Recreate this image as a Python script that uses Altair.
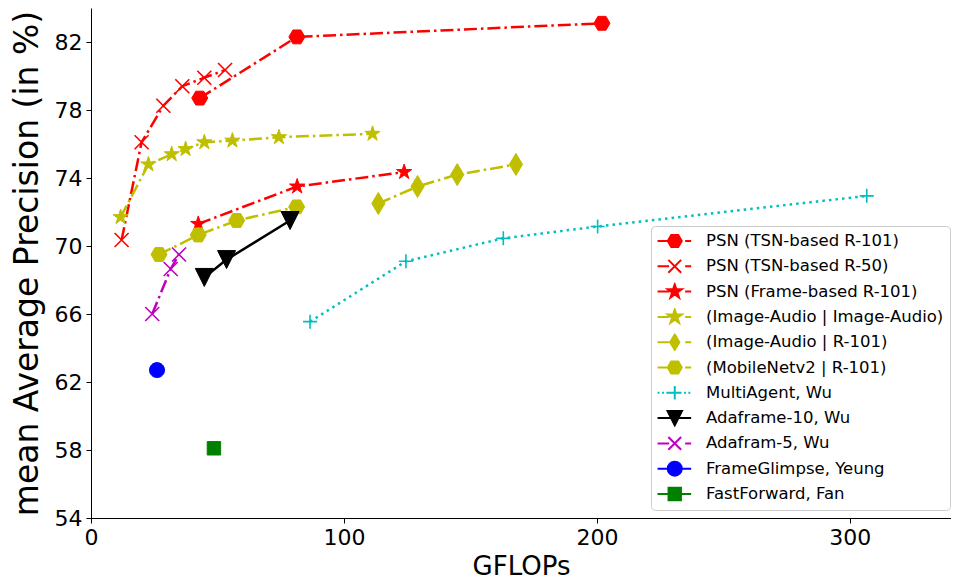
import math
import altair as alt
import pandas as pd

# ---------------- data ----------------
names = [
    "PSN (TSN-based R-101)",
    "PSN (TSN-based R-50)",
    "PSN (Frame-based R-101)",
    "(Image-Audio | Image-Audio)",
    "(Image-Audio | R-101)",
    "(MobileNetv2 | R-101)",
    "MultiAgent, Wu",
    "Adaframe-10, Wu",
    "Adafram-5, Wu",
    "FrameGlimpse, Yeung",
    "FastForward, Fan",
]

psn_tsn101_x = [43.0, 81.4, 202.0]
psn_tsn101_y = [78.7, 82.3, 83.1]
psn_tsn50_x = [12.1, 20.0, 28.6, 36.1, 44.8, 53.0]
psn_tsn50_y = [70.35, 76.1, 78.25, 79.4, 79.9, 80.35]
psn_frame101_x = [42.4, 81.5, 123.8]
psn_frame101_y = [71.3, 73.5, 74.35]
ia_ia_x = [11.7, 22.7, 31.9, 37.4, 44.8, 55.9, 74.3, 111.3]
ia_ia_y = [71.7, 74.8, 75.4, 75.7, 76.1, 76.2, 76.4, 76.6]
ia_r101_x = [113.6, 129.1, 144.8, 168.0]
ia_r101_y = [72.5, 73.5, 74.2, 74.8]
mob_r101_x = [26.9, 42.4, 57.6, 81.3]
mob_r101_y = [69.5, 70.65, 71.5, 72.3]
multiagent_x = [86.6, 124.5, 163.0, 200.3, 306.7]
multiagent_y = [65.55, 69.1, 70.45, 71.15, 72.95]
adaframe10_x = [44.8, 53.6, 78.7]
adaframe10_y = [68.15, 69.2, 71.5]
adafram5_x = [24.2, 31.5, 34.8]
adafram5_y = [66.0, 68.65, 69.5]
frameglimpse_x = [26.1]
frameglimpse_y = [62.7]
fastforward_x = [48.6]
fastforward_y = [58.1]

xs_all = [psn_tsn101_x, psn_tsn50_x, psn_frame101_x, ia_ia_x, ia_r101_x, mob_r101_x,
          multiagent_x, adaframe10_x, adafram5_x, frameglimpse_x, fastforward_x]
ys_all = [psn_tsn101_y, psn_tsn50_y, psn_frame101_y, ia_ia_y, ia_r101_y, mob_r101_y,
          multiagent_y, adaframe10_y, adafram5_y, frameglimpse_y, fastforward_y]

x_ticks = [0, 100, 200, 300]
y_ticks = [54, 58, 62, 66, 70, 74, 78, 82]

rows = []
for n, xs, ys in zip(names, xs_all, ys_all):
    for a, b in zip(xs, ys):
        rows.append({"series": n, "x": a, "y": b})
df = pd.DataFrame(rows)

# ---------------- marker shapes ----------------
def fmt(v):
    return f"{v:.3f}".rstrip("0").rstrip(".")

def star(r=1.0, ri=0.382):
    pts = []
    for i in range(10):
        ang = -math.pi / 2 + i * math.pi / 5
        rr = r if i % 2 == 0 else ri * r
        pts.append((rr * math.cos(ang), rr * math.sin(ang)))
    return "M" + "L".join(f"{fmt(a)},{fmt(b)}" for a, b in pts) + "Z"

def hexagon(r=1.0):
    h = r * 0.866
    return (f"M{fmt(-r)},0L{fmt(-r/2)},{fmt(-h)}L{fmt(r/2)},{fmt(-h)}L{fmt(r)},0"
            f"L{fmt(r/2)},{fmt(h)}L{fmt(-r/2)},{fmt(h)}Z")

def xmark(r=1.0):
    return f"M{fmt(-r)},{fmt(-r)}L{fmt(r)},{fmt(r)}M{fmt(-r)},{fmt(r)}L{fmt(r)},{fmt(-r)}"

def plus(r=1.0):
    return f"M{fmt(-r)},0L{fmt(r)},0M0,{fmt(-r)}L0,{fmt(r)}"

def diamond(w=0.6, h=1.0):
    return f"M0,{fmt(-h)}L{fmt(w)},0L0,{fmt(h)}L{fmt(-w)},0Z"

def tri_down(r=1.0):
    return f"M{fmt(-r)},{fmt(-r)}L{fmt(r)},{fmt(-r)}L0,{fmt(r)}Z"

def square(r=1.0):
    return f"M{fmt(-r)},{fmt(-r)}L{fmt(r)},{fmt(-r)}L{fmt(r)},{fmt(r)}L{fmt(-r)},{fmt(r)}Z"

def circle(r=1.0):
    return (f"M{fmt(r)},0A{fmt(r)},{fmt(r)} 0 1,1 {fmt(-r)},0"
            f"A{fmt(r)},{fmt(r)} 0 1,1 {fmt(r)},0Z")

RED, YEL, CYA, BLK, MAG, BLU, GRN = "#ff0000", "#bfbf00", "#00bfbf", "#000000", "#bf00bf", "#0000ff", "#008000"
DASHDOT = [13, 4, 2.5, 4]
DOT = [2.5, 4.1]

# style per series: color, marker path, size, filled, line dash (None = solid), legend line kind, legend marker
styles = [
    (RED, hexagon(), 256, True, DASHDOT, "dd", hexagon(1.75)),
    (RED, xmark(), 196, False, DASHDOT, "dd", xmark(1.6)),
    (RED, star(), 256, True, DASHDOT, "dd", star(1.85)),
    (YEL, star(), 256, True, DASHDOT, "dd", star(1.85)),
    (YEL, diamond(), 484, True, DASHDOT, "dd", diamond(1.15, 1.9)),
    (YEL, hexagon(), 256, True, DASHDOT, "dd", hexagon(1.75)),
    (CYA, plus(), 196, False, DOT, "dot", plus(1.7)),
    (BLK, tri_down(), 324, True, None, "solid", tri_down(1.8)),
    (MAG, xmark(), 196, False, DASHDOT, "dd", xmark(1.6)),
    (BLU, circle(), 225, True, None, "solid", circle(1.75)),
    (GRN, square(), 180, True, None, "solid", square(1.55)),
]

def legend_line(kind):
    if kind == "solid":
        return "M-4.3,0L4.1,0"
    if kind == "dd":
        return "M-4.3,0L-1.4,0M2.6,0L4.1,0"
    segs = []
    p = -4.3
    while p < 4.1:
        segs.append(f"M{fmt(p)},0L{fmt(p + 0.5)},0")
        p += 1.1
    return "".join(segs)

legend_paths = [legend_line(s[5]) + s[6] for s in styles]
legend_fills = [s[0] if s[3] else "transparent" for s in styles]
legend_strokes = [s[0] for s in styles]

FONT = "DejaVu Sans"

x_enc = alt.X("x:Q", scale=alt.Scale(domain=[0, 340], nice=False, zero=False),
              axis=alt.Axis(values=x_ticks, title="GFLOPs", titleY=56,
                            titleBaseline="alphabetic", titleFontSize=26))
y_enc = alt.Y("y:Q", scale=alt.Scale(domain=[54, 84], nice=False, zero=False),
              axis=alt.Axis(values=y_ticks, title="mean Average Precision (in %)",
                            titleX=-64, titleBaseline="middle", titleAngle=-90,
                            titleFontSize=33))

layers = []
for n, st in zip(names, styles):
    color, path, size, filled, dash, _, _ = st
    base = alt.Chart(df).transform_filter(alt.datum.series == n)
    if len(df[df.series == n]) > 1:
        lkw = dict(color=color, strokeWidth=2.5)
        if dash is not None:
            lkw["strokeDash"] = dash
        layers.append(base.mark_line(**lkw).encode(x=x_enc, y=y_enc))
    if filled:
        pm = base.mark_point(shape=path, size=size, filled=True, fill=color, stroke=color,
                             strokeWidth=1, opacity=1)
    else:
        pm = base.mark_point(shape=path, size=size, filled=False, stroke=color,
                             strokeWidth=1.6, opacity=1)
    layers.append(pm.encode(x=x_enc, y=y_enc))

leg = alt.Legend(title=None, orient="none", legendX=560, legendY=218, padding=6,
                 labelFont=FONT, labelFontSize=16.5, labelColor="black", labelLimit=400,
                 rowPadding=7.3, symbolOffset=9.5, labelOffset=23, clipHeight=18,
                 symbolSize=64, strokeColor="#cccccc", fillColor="rgba(255,255,255,0.8)",
                 cornerRadius=4, symbolStrokeWidth=2)

legend_layer = alt.Chart(df).transform_filter("false").mark_point(
    filled=True, size=64, opacity=1, strokeWidth=2
).encode(
    x=x_enc, y=y_enc,
    shape=alt.Shape("series:N", scale=alt.Scale(domain=names, range=legend_paths), legend=leg),
    fill=alt.Fill("series:N", scale=alt.Scale(domain=names, range=legend_fills), legend=leg),
    stroke=alt.Stroke("series:N", scale=alt.Scale(domain=names, range=legend_strokes), legend=leg),
)

chart = alt.layer(*layers, legend_layer).properties(
    width=860, height=510,
    padding={"left": 83, "top": 0, "right": 0, "bottom": 61},
    autosize=alt.AutoSizeParams(type="none"),
).configure_view(stroke=None).configure_axis(
    grid=False, domainColor="black", domainWidth=1, tickColor="black", tickSize=5,
    tickWidth=1, labelFont=FONT, labelFontSize=22, labelColor="black", labelPadding=4,
    titleFont=FONT, titleFontWeight="normal", titleColor="black",
).configure_axisX(labelFlush=False)

chart.save("out.html", embed_options={"renderer": "svg", "actions": False})
